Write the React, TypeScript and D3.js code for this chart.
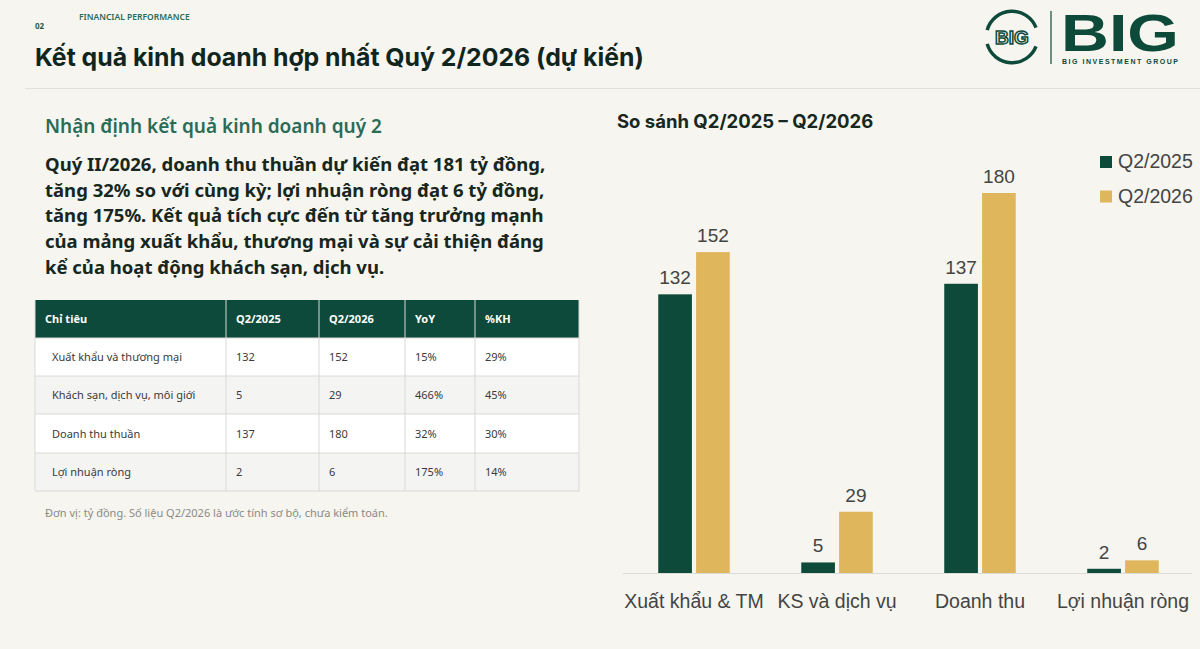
import React from "react";
import * as d3 from "d3";

const categories = ["Xuất khẩu & TM", "KS và dịch vụ", "Doanh thu", "Lợi nhuận ròng"];
const seriesNames = ["Q2/2025", "Q2/2026"];
const q2025 = [132, 5, 137, 2];
const q2026 = [152, 29, 180, 6];

const tableHeaders = ["Chỉ tiêu", "Q2/2025", "Q2/2026", "YoY", "%KH"];
const tableItems = ["Xuất khẩu và thương mại", "Khách sạn, dịch vụ, môi giới", "Doanh thu thuần", "Lợi nhuận ròng"];
const tableQ2025 = ["132", "5", "137", "2"];
const tableQ2026 = ["152", "29", "180", "6"];
const tableYoY = ["15%", "466%", "32%", "175%"];
const tableKH = ["29%", "45%", "30%", "14%"];

const paragraph = [
  "Quý II/2026, doanh thu thuần dự kiến đạt 181 tỷ đồng,",
  "tăng 32% so với cùng kỳ; lợi nhuận ròng đạt 6 tỷ đồng,",
  "tăng 175%. Kết quả tích cực đến từ tăng trưởng mạnh",
  "của mảng xuất khẩu, thương mại và sự cải thiện đáng",
  "kể của hoạt động khách sạn, dịch vụ.",
];

const DARK = "#0d4a3a";
const GOLD = "#e0b65c";
const BG = "#f6f5ef";

export default function App() {
  const W = 1200, H = 649;
  // chart
  const baseY = 573;
  const y = d3.scaleLinear().domain([0, 180]).range([baseY, 193]);
  const x0 = d3.scaleBand<string>().domain(categories).range([622.5, 1194.5]).paddingInner(0.5).paddingOuter(0.25);
  const x1 = d3.scaleBand<string>().domain(seriesNames).range([0, x0.bandwidth()]).paddingInner(0.11);
  const seriesVals = [q2025, q2026];
  const colors = [DARK, GOLD];

  // table
  const colX = [35, 226, 319, 405, 475, 579];
  const rowY = [300, 338, 376, 414, 453, 491];
  const tableCols = [tableItems, tableQ2025, tableQ2026, tableYoY, tableKH];

  const chartFont = "'Liberation Sans', Arial, sans-serif";
  const titleFont = "Inter, Roboto, sans-serif";
  const textFont = "'Noto Sans', sans-serif";
  const logoFont = "'Liberation Sans', Arial, sans-serif";

  const ring = d3.arc();

  return (
    <div style={{ position: "fixed", left: 0, top: 0, width: W, height: H, background: BG }}>
      <svg width={W} height={H} viewBox={`0 0 ${W} ${H}`} style={{ display: "block" }}>
        <rect x={0} y={0} width={W} height={H} fill={BG} />
        {/* header */}
        <text x={35} y={29} fontFamily={textFont} fontSize={8} fontWeight={700} fill="#2b5c4c">02</text>
        <text x={79} y={20} fontFamily={textFont} fontSize={8.5} fontWeight={600} fill="#2b6b55">FINANCIAL PERFORMANCE</text>
        <text x={35} y={66} fontFamily={titleFont} fontSize={24.8} fontWeight={700} fill="#10251d">
          Kết quả kinh doanh hợp nhất Quý 2/2026 (dự kiến)
        </text>
        <line x1={25} x2={1200} y1={88.5} y2={88.5} stroke="#e3e1d9" strokeWidth={1} />

        {/* logo */}
        <g>
          <path d={ring({ innerRadius: 24, outerRadius: 27.5, startAngle: -1.3, endAngle: 1.2 }) || ""} transform="translate(1012,37)" fill={DARK} />
          <path d={ring({ innerRadius: 24, outerRadius: 27.5, startAngle: Math.PI - 1.2, endAngle: Math.PI + 1.3 }) || ""} transform="translate(1012,37)" fill={DARK} />
          <text x={1012} y={44} textAnchor="middle" fontFamily={logoFont} fontSize={19} fontWeight={700} fill="none" stroke={DARK} strokeWidth={1.5}>BIG</text>
          <line x1={1051} x2={1051} y1={11} y2={64} stroke={DARK} strokeWidth={1.2} />
          <text x={1061} y={51} fontFamily={logoFont} fontSize={52} fontWeight={700} fill={DARK} textLength={118} lengthAdjust="spacingAndGlyphs">BIG</text>
          <text x={1062} y={64} fontFamily={logoFont} fontSize={7} fontWeight={700} fill={DARK} textLength={116} lengthAdjust="spacing">BIG INVESTMENT GROUP</text>
        </g>

        {/* left text */}
        <text x={45} y={133} fontFamily={textFont} fontSize={19} fontWeight={600} fill="#2a6b58">Nhận định kết quả kinh doanh quý 2</text>
        {paragraph.map((line, i) => (
          <text key={i} x={45} y={171 + i * 25.7} fontFamily={textFont} fontSize={18.5} fontWeight={700} fill="#172720">{line}</text>
        ))}

        {/* table */}
        <rect x={colX[0]} y={rowY[0]} width={colX[5] - colX[0]} height={rowY[1] - rowY[0]} fill="#0e4a3b" />
        {tableItems.map((_, r) => (
          <rect key={r} x={colX[0]} y={rowY[r + 1]} width={colX[5] - colX[0]} height={rowY[r + 2] - rowY[r + 1]} fill={r % 2 === 0 ? "#ffffff" : "#f4f4f3"} />
        ))}
        {rowY.slice(1).map((yy, i) => (
          <line key={i} x1={colX[0]} x2={colX[5]} y1={yy} y2={yy} stroke="#d9d9d6" strokeWidth={1} />
        ))}
        {colX.map((xx, i) => (
          <line key={i} x1={xx} x2={xx} y1={rowY[0]} y2={rowY[5]} stroke="#d9d9d6" strokeWidth={1} />
        ))}
        {tableHeaders.map((h, i) => (
          <text key={h} x={colX[i] + 10} y={(rowY[0] + rowY[1]) / 2 + 4} fontFamily={textFont} fontSize={11} fontWeight={700} fill="#ffffff">{h}</text>
        ))}
        {tableCols.map((col, c) =>
          col.map((v, r) => (
            <text key={`${c}-${r}`} x={colX[c] + (c === 0 ? 17 : 10)} y={(rowY[r + 1] + rowY[r + 2]) / 2 + 4} fontFamily={textFont} fontSize={11} fill="#3a3a3a">{v}</text>
          ))
        )}
        <text x={45} y={517} fontFamily={textFont} fontSize={11} fill="#8a8a86">Đơn vị: tỷ đồng. Số liệu Q2/2026 là ước tính sơ bộ, chưa kiểm toán.</text>

        {/* chart */}
        <text x={617} y={128} fontFamily={titleFont} fontSize={18.5} fontWeight={700} fill="#172720">So sánh Q2/2025 – Q2/2026</text>
        <line x1={623} x2={1192} y1={baseY + 0.5} y2={baseY + 0.5} stroke="#dcdcd6" strokeWidth={1} />
        {categories.map((c, ci) => (
          <g key={c} transform={`translate(${x0(c)},0)`}>
            {seriesNames.map((s, si) => {
              const v = seriesVals[si][ci];
              return (
                <g key={s}>
                  <rect x={x1(s)} y={y(v)} width={x1.bandwidth()} height={baseY - y(v)} fill={colors[si]} />
                  <text x={(x1(s) || 0) + x1.bandwidth() / 2} y={y(v) - 10} textAnchor="middle" fontFamily={chartFont} fontSize={19} fill="#444">{v}</text>
                </g>
              );
            })}
            <text x={x0.bandwidth() / 2} y={608} textAnchor="middle" fontFamily={chartFont} fontSize={19.5} fill="#444">{c}</text>
          </g>
        ))}
        {seriesNames.map((s, i) => (
          <g key={s} transform={`translate(1100,${156 + i * 34.5})`}>
            <rect x={0} y={0} width={12} height={12} fill={colors[i]} />
            <text x={18} y={12} fontFamily={chartFont} fontSize={19.5} fill="#444">{s}</text>
          </g>
        ))}
      </svg>
    </div>
  );
}
